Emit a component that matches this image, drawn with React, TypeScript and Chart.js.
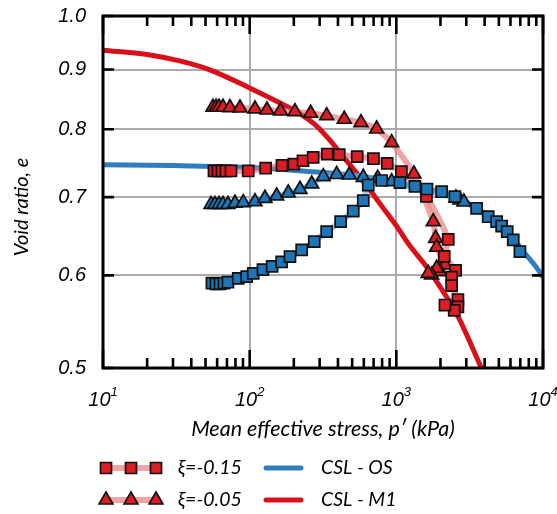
import { useEffect, useRef } from 'react';
import { Chart, registerables } from 'chart.js';

Chart.register(...registerables);

// Loose test, xi = -0.15 (red squares)
const looseSqP = [57.1, 60.8, 64.7, 68.9, 74.6, 97.8, 128.5, 166, 200, 231, 271, 338, 408, 541, 698, 867, 1083, 1604, 2258, 2121, 2536, 2382, 2382, 2630, 2630, 2481, 2145];
const looseSqE = [0.737, 0.737, 0.737, 0.737, 0.737, 0.737, 0.741, 0.745, 0.747, 0.752, 0.757, 0.762, 0.761, 0.758, 0.755, 0.748, 0.736, 0.701, 0.644, 0.623, 0.606, 0.598, 0.588, 0.572, 0.564, 0.56, 0.566];

// Loose test, xi = -0.05 (red triangles)
const looseTriP = [56.2, 59.0, 61.8, 65.8, 73.4, 85.9, 108.7, 131.2, 162.2, 203.6, 260.5, 334.9, 441.5, 573.9, 734, 929, 1318, 1784, 1853, 1883, 2145, 1983, 1883, 1740, 1650];
const looseTriE = [0.8355, 0.8355, 0.8355, 0.8355, 0.8350, 0.8343, 0.8327, 0.831, 0.8294, 0.8283, 0.8257, 0.8218, 0.816, 0.8105, 0.8005, 0.7792, 0.7326, 0.667, 0.6455, 0.6342, 0.6125, 0.6044, 0.6085, 0.6005, 0.6025];

// Dense test (blue triangles)
const denseTriP = [54.5, 58.0, 61.8, 65.8, 71.1, 79.4, 90.4, 108.7, 127.1, 152.8, 183.3, 220.3, 264.7, 317.6, 391.9, 477.5, 595, 745.8, 929, 2549, 2714, 2890];
const denseTriE = [0.69, 0.69, 0.69, 0.69, 0.69, 0.6916, 0.6924, 0.6938, 0.6984, 0.7016, 0.7057, 0.7109, 0.7184, 0.7288, 0.7319, 0.7312, 0.7279, 0.7265, 0.7216, 0.6988, 0.6961, 0.6933];

// Dense test (blue squares)
const denseSqP = [55.3, 58.9, 62.8, 66.8, 71.1, 83.6, 95.4, 105.8, 123.2, 142.3, 165.2, 188.3, 226.2, 275.7, 334.9, 417.2, 508.5, 595, 643.6, 794, 1058, 1339, 1617, 2036, 2508, 3527, 4232, 4829, 5222, 5702, 6266, 6958];
const denseSqE = [0.591, 0.59, 0.59, 0.591, 0.592, 0.5966, 0.5985, 0.6025, 0.6069, 0.6107, 0.6161, 0.6226, 0.6308, 0.6412, 0.654, 0.667, 0.6811, 0.6951, 0.7169, 0.7233, 0.7202, 0.7149, 0.7113, 0.7075, 0.7006, 0.6848, 0.6735, 0.667, 0.6613, 0.654, 0.6434, 0.6287];

// Critical state lines
const cslOsP = [10, 30, 100, 300, 600, 1000, 1500, 2037, 2700, 3525, 4826, 6270, 7500, 8800, 10000];
const cslOsE = [0.746, 0.745, 0.742, 0.735, 0.729, 0.72, 0.713, 0.706, 0.697, 0.684, 0.667, 0.645, 0.627, 0.612, 0.598];
const cslM1P = [10, 20, 35, 54, 100, 160, 220, 290, 352, 434, 536, 661, 814, 1005, 1238, 1610, 2258, 2643, 3800];
const cslM1E = [0.935, 0.927, 0.914, 0.899, 0.868, 0.843, 0.825, 0.804, 0.783, 0.758, 0.734, 0.71, 0.685, 0.661, 0.636, 0.61, 0.572, 0.553, 0.5];

// Axes
const xMajor = [10, 100, 1000, 10000];
const xExp = ['1', '2', '3', '4'];
const xMinor = [20, 30, 40, 50, 60, 70, 80, 90, 200, 300, 400, 500, 600, 700, 800, 900, 2000, 3000, 4000, 5000, 6000, 7000, 8000, 9000];
const yTicks = [0.5, 0.6, 0.7, 0.8, 0.9, 1.0];
const xTitle = 'Mean effective stress, p\u2032 (kPa)';
const yTitle = 'Void ratio, e';
const legendNames = ['\u03BE=-0.15', '\u03BE=-0.05', 'CSL - OS', 'CSL - M1'];

const RED = '#de1c24';
const BLUE = '#1e75b7';
const PINK = 'rgba(232, 112, 114, 0.64)';
const LIGHTBLUE = 'rgba(110, 170, 215, 0.6)';
const CSL_BLUE = '#2f7dbd';
const CSL_RED = '#d9101a';

const zip = (p: number[], e: number[]) => p.map((v, i) => ({ x: v, y: e[i] }));

const TICK_FONT = 'italic 20px "Liberation Sans", Arial, sans-serif';
const EXP_FONT = 'italic 13px "Liberation Sans", Arial, sans-serif';
const TITLE_FONT = 'italic 21.5px Lato, "Open Sans", sans-serif';
const LEGEND_FONT = 'italic 19.5px Lato, "Open Sans", sans-serif';

function drawMarker(ctx: CanvasRenderingContext2D, kind: string, x: number, y: number, fill: string) {
  ctx.save();
  ctx.fillStyle = fill;
  ctx.strokeStyle = '#111';
  ctx.lineWidth = 1.7;
  ctx.beginPath();
  if (kind === 'rect') {
    ctx.rect(x - 5.5, y - 5.5, 11, 11);
  } else {
    const r = 8;
    ctx.moveTo(x, y - r);
    ctx.lineTo(x + r * 0.866, y + r * 0.5);
    ctx.lineTo(x - r * 0.866, y + r * 0.5);
    ctx.closePath();
  }
  ctx.fill();
  ctx.stroke();
  ctx.restore();
}

const framePlugin = {
  id: 'frame',
  beforeDatasetsDraw(chart: any) {
    const { ctx, chartArea: a, scales } = chart;
    const xs = scales.x;
    const ys = scales.y;
    ctx.save();
    ctx.strokeStyle = '#ababab';
    ctx.lineWidth = 2;
    ctx.beginPath();
    for (const v of [100, 1000]) {
      const px = Math.round(xs.getPixelForValue(v));
      ctx.moveTo(px, a.top);
      ctx.lineTo(px, a.bottom);
    }
    for (const v of [0.6, 0.7, 0.8, 0.9]) {
      const py = Math.round(ys.getPixelForValue(v));
      ctx.moveTo(a.left, py);
      ctx.lineTo(a.right, py);
    }
    ctx.stroke();
    ctx.restore();
  },
  afterDraw(chart: any) {
    const { ctx, chartArea: a, scales } = chart;
    const xs = scales.x;
    const ys = scales.y;
    ctx.save();

    // inward tick marks
    ctx.strokeStyle = '#000';
    ctx.lineWidth = 2.6;
    ctx.beginPath();
    for (const v of xMinor) {
      const px = xs.getPixelForValue(v);
      ctx.moveTo(px, a.bottom);
      ctx.lineTo(px, a.bottom - 10);
      ctx.moveTo(px, a.top);
      ctx.lineTo(px, a.top + 10);
    }
    for (const v of xMajor) {
      const px = xs.getPixelForValue(v);
      ctx.moveTo(px, a.bottom);
      ctx.lineTo(px, a.bottom - 18);
      ctx.moveTo(px, a.top);
      ctx.lineTo(px, a.top + 18);
    }
    for (const v of yTicks) {
      const py = ys.getPixelForValue(v);
      ctx.moveTo(a.left, py);
      ctx.lineTo(a.left + 11, py);
      ctx.moveTo(a.right, py);
      ctx.lineTo(a.right - 11, py);
    }
    ctx.stroke();

    // frame
    ctx.lineWidth = 3;
    ctx.strokeRect(a.left, a.top, a.right - a.left, a.bottom - a.top);

    // y tick labels
    ctx.fillStyle = '#000';
    ctx.font = TICK_FONT;
    ctx.textAlign = 'right';
    ctx.textBaseline = 'middle';
    for (const v of yTicks) {
      ctx.fillText(v.toFixed(1), a.left - 17, ys.getPixelForValue(v));
    }

    // x tick labels: 10 with a raised exponent
    const labelY = a.bottom + 32;
    xMajor.forEach((v, i) => {
      const px = xs.getPixelForValue(v);
      ctx.font = TICK_FONT;
      const w1 = ctx.measureText('10').width;
      ctx.font = EXP_FONT;
      const w2 = ctx.measureText(xExp[i]).width;
      const left = px - (w1 + w2) / 2;
      ctx.textAlign = 'left';
      ctx.textBaseline = 'middle';
      ctx.font = TICK_FONT;
      ctx.fillText('10', left, labelY);
      ctx.font = EXP_FONT;
      ctx.fillText(xExp[i], left + w1, labelY - 8);
    });

    // axis titles
    ctx.font = TITLE_FONT;
    ctx.textAlign = 'center';
    ctx.textBaseline = 'middle';
    ctx.fillText(xTitle, (a.left + a.right) / 2, a.bottom + 61);
    ctx.save();
    ctx.translate(22, 207);
    ctx.rotate(-Math.PI / 2);
    ctx.font = 'italic 20px Lato, "Open Sans", sans-serif';
    ctx.fillText(yTitle, 0, 0);
    ctx.restore();

    // legend
    const rows = [a.bottom + 100, a.bottom + 132];
    ctx.lineCap = 'round';
    [['rect', rows[0]], ['tri', rows[1]]].forEach(([kind, ry]: any) => {
      ctx.strokeStyle = PINK;
      ctx.lineWidth = 6;
      ctx.beginPath();
      ctx.moveTo(106, ry);
      ctx.lineTo(156, ry);
      ctx.stroke();
      for (const mx of [106, 131, 156]) drawMarker(ctx, kind, mx, ry, RED);
    });
    [[CSL_BLUE, rows[0]], [CSL_RED, rows[1]]].forEach(([c, ry]: any) => {
      ctx.strokeStyle = c;
      ctx.lineWidth = 5;
      ctx.beginPath();
      ctx.moveTo(266, ry);
      ctx.lineTo(301, ry);
      ctx.stroke();
    });
    ctx.font = LEGEND_FONT;
    ctx.textAlign = 'left';
    ctx.fillStyle = '#000';
    ctx.fillText(legendNames[0], 178, rows[0]);
    ctx.fillText(legendNames[1], 178, rows[1]);
    ctx.fillText(legendNames[2], 321, rows[0]);
    ctx.fillText(legendNames[3], 321, rows[1]);
    ctx.restore();
  },
};

function seriesLine(p: number[], e: number[], color: string) {
  return {
    data: zip(p, e),
    showLine: true,
    borderColor: color,
    borderWidth: 6,
    pointRadius: 0,
    tension: 0.2,
    borderCapStyle: 'round',
    borderJoinStyle: 'round',
    order: 5,
  };
}

function seriesMarks(p: number[], e: number[], style: string, fill: string) {
  return {
    data: zip(p, e),
    showLine: false,
    pointStyle: style,
    pointRadius: style === 'rect' ? 7.8 : 8,
    pointBackgroundColor: fill,
    pointBorderColor: '#111',
    pointBorderWidth: 1.7,
    order: 1,
  };
}

function cslLine(p: number[], e: number[], color: string) {
  return {
    data: zip(p, e),
    showLine: true,
    borderColor: color,
    borderWidth: 5,
    pointRadius: 0,
    cubicInterpolationMode: 'monotone',
    order: 8,
  };
}

export default function App() {
  const ref = useRef<HTMLCanvasElement | null>(null);

  useEffect(() => {
    document.body.style.margin = '0';
    const canvas = ref.current;
    if (!canvas) return;
    const chart = new Chart(canvas, {
      type: 'scatter',
      data: {
        datasets: [
          cslLine(cslOsP, cslOsE, CSL_BLUE),
          cslLine(cslM1P, cslM1E, CSL_RED),
          seriesLine(denseSqP, denseSqE, LIGHTBLUE),
          seriesLine(denseTriP, denseTriE, LIGHTBLUE),
          seriesLine(looseSqP, looseSqE, PINK),
          seriesLine(looseTriP, looseTriE, PINK),
          seriesMarks(denseSqP, denseSqE, 'rect', BLUE),
          seriesMarks(denseTriP, denseTriE, 'triangle', BLUE),
          seriesMarks(looseSqP, looseSqE, 'rect', RED),
          seriesMarks(looseTriP, looseTriE, 'triangle', RED),
        ] as any,
      },
      options: {
        responsive: false,
        animation: false,
        layout: { padding: { left: 103, right: 14, top: 16, bottom: 146 } },
        plugins: { legend: { display: false }, tooltip: { enabled: false } },
        scales: {
          x: {
            type: 'logarithmic',
            min: 10,
            max: 10000,
            ticks: { display: false },
            grid: { display: false, drawTicks: false },
            border: { display: false },
          },
          y: {
            type: 'logarithmic',
            min: 0.5,
            max: 1.0,
            ticks: { display: false },
            grid: { display: false, drawTicks: false },
            border: { display: false },
          },
        },
      },
      plugins: [framePlugin],
    });
    return () => chart.destroy();
  }, []);

  return <canvas ref={ref} width={557} height={514} style={{ display: 'block' }} />;
}
